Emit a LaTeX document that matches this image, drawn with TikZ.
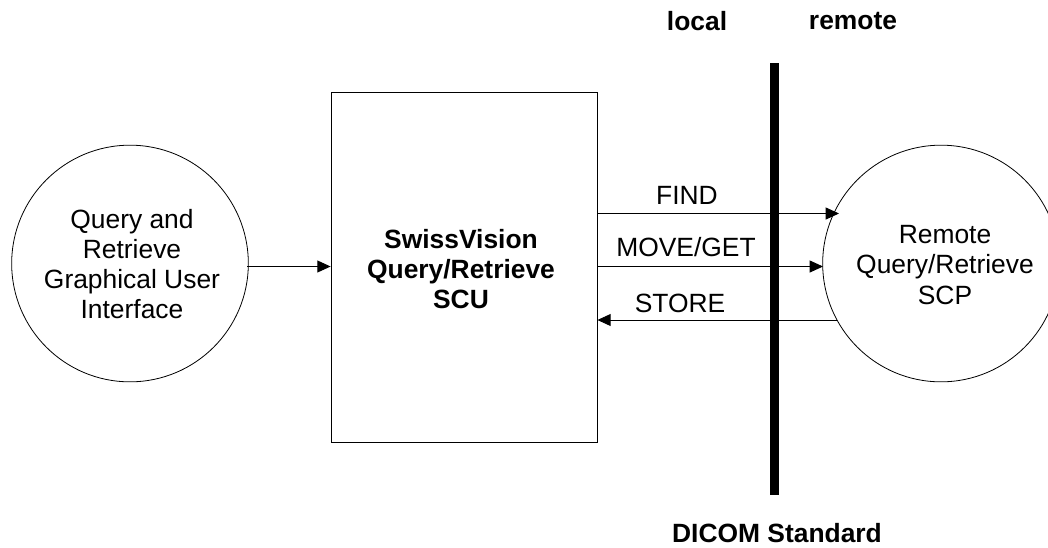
\documentclass[tikz,border=0pt]{standalone}
\usepackage{fontspec}
\setmainfont{Liberation Sans}
\usetikzlibrary{arrows.meta}
\tikzset{
  px/.style={x=0.75pt,y=-0.75pt},
  lbl/.style={font=\fontsize{19.8pt}{22.6pt}\selectfont,align=center,inner sep=0pt},
  blbl/.style={font=\fontsize{19.8pt}{22.6pt}\selectfont\bfseries,align=center,inner sep=0pt},
  conn/.style={line width=0.75pt,-{Triangle[length=10pt,width=9pt]}},
  shp/.style={draw,line width=0.6pt,inner sep=0pt}
}
\begin{document}
\begin{tikzpicture}[px]
\useasboundingbox (0,0) rectangle (1048,547);
\clip (0,0) rectangle (1048,547);
\node[shp,circle,minimum size=177.5pt] (gui) at (130,263.5) {};
\node[lbl] (guit) at (132,264) {Query and\\Retrieve\\Graphical User\\Interface};
\node[shp,rectangle,minimum width=199.5pt,minimum height=262.5pt] (scu) at (464,267) {};
\node[blbl] (scut) at (461,269) {SwissVision\\Query/Retrieve\\SCU};
\node[shp,circle,minimum size=177.5pt] (scp) at (941,263.5) {};
\node[lbl] (scpt) at (945,265) {Remote\\Query/Retrieve\\SCP};
\coordinate (bt) at (774.5,63);
\coordinate (bb) at (774.5,495);
\draw[line width=6.75pt] (bt) -- (bb);
\coordinate (g1) at (247,266.5);
\coordinate (g2) at (scu.west |- g1);
\draw[conn] (g1) -- (g2);
\coordinate (f1) at (scu.east |- 0,213.5);
\coordinate (f2) at (839,213.5);
\draw[conn] (f1) -- (f2);
\coordinate (m1) at (scu.east |- 0,266.5);
\coordinate (m2) at (823,266.5);
\draw[conn] (m1) -- (m2);
\coordinate (s1) at (837,320);
\coordinate (s2) at (scu.east |- 0,320);
\draw[conn] (s1) -- (s2);
\node[lbl] (find) at (687,195) {FIND};
\node[lbl] (move) at (686,247) {MOVE/GET};
\node[lbl] (store) at (680,303) {STORE};
\node[blbl] (local) at (697,21) {local};
\node[blbl] (remote) at (853,21) {remote};
\node[blbl] (dicom) at (777,533) {DICOM Standard};
\end{tikzpicture}
\end{document}
